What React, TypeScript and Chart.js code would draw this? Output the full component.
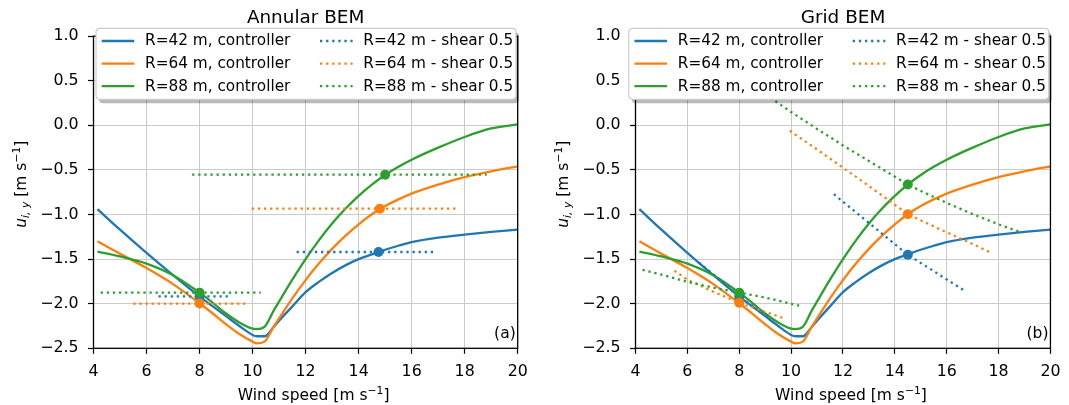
import React, { useEffect, useRef } from 'react';
import { Chart, registerables } from 'chart.js';

Chart.register(...registerables);

const FONT = '"DejaVu Sans", "Liberation Sans", sans-serif';
Chart.defaults.font.family = FONT;
Chart.defaults.font.size = 15.8;
Chart.defaults.color = '#000';

const BLUE = '#1f77b4';
const ORANGE = '#ff7f0e';
const GREEN = '#2ca02c';

// ---- data ----
const windSpeed = [4.15, 5, 6, 7, 8, 8.5, 9, 9.5, 10, 10.15, 10.45, 10.8, 11, 11.5, 12, 12.5, 13, 13.5, 14, 14.5, 15, 15.5, 16, 17, 18, 19, 20];
const r42Controller = [-0.94, -1.17, -1.43, -1.68, -1.92, -2.03, -2.14, -2.25, -2.35, -2.365, -2.365, -2.26, -2.19, -2.03, -1.87, -1.755, -1.655, -1.57, -1.50, -1.447, -1.395, -1.35, -1.31, -1.26, -1.225, -1.195, -1.17];
const r64Controller = [-1.30, -1.44, -1.60, -1.78, -1.995, -2.11, -2.23, -2.34, -2.425, -2.445, -2.425, -2.255, -2.165, -1.94, -1.735, -1.55, -1.385, -1.24, -1.11, -0.996, -0.905, -0.83, -0.765, -0.665, -0.58, -0.515, -0.46];
const r88Controller = [-1.415, -1.47, -1.55, -1.68, -1.876, -1.99, -2.11, -2.21, -2.28, -2.285, -2.26, -2.075, -1.975, -1.73, -1.50, -1.29, -1.10, -0.935, -0.79, -0.664, -0.556, -0.465, -0.385, -0.25, -0.13, -0.035, 0.01];

// Annular BEM, shear 0.5 (low and high operating point segments)
const annular42LowX = [6.45, 9.15];
const annular42LowY = [-1.917, -1.917];
const annular42HighX = [11.66, 16.81];
const annular42HighY = [-1.42, -1.42];
const annular64LowX = [5.5, 9.79];
const annular64LowY = [-1.998, -1.998];
const annular64HighX = [9.97, 17.78];
const annular64HighY = [-0.934, -0.934];
const annular88LowX = [4.27, 10.31];
const annular88LowY = [-1.876, -1.876];
const annular88HighX = [7.72, 18.83];
const annular88HighY = [-0.553, -0.553];

const annularOp42X = [8, 14.75];
const annularOp42Y = [-1.917, -1.42];
const annularOp64X = [8, 14.8];
const annularOp64Y = [-1.998, -0.934];
const annularOp88X = [8, 15.0];
const annularOp88Y = [-1.876, -0.553];

// Grid BEM, shear 0.5
const grid42LowX = [6.45, 7, 7.5, 8, 8.5, 9.15];
const grid42LowY = [-1.54, -1.67, -1.79, -1.92, -2.02, -2.15];
const grid42HighX = [11.65, 12.5, 13.5, 14.5, 15.5, 16.69];
const grid42HighY = [-0.772, -0.975, -1.213, -1.451, -1.635, -1.854];
const grid64LowX = [5.5, 6, 7, 8, 9, 9.79];
const grid64LowY = [-1.63, -1.73, -1.865, -1.99, -2.09, -2.17];
const grid64HighX = [9.95, 10.5, 11, 12, 13, 14, 14.5, 15, 16, 17, 17.76];
const grid64HighY = [-0.06, -0.17, -0.27, -0.475, -0.68, -0.89, -0.996, -1.065, -1.2, -1.33, -1.437];
const grid88LowX = [4.27, 5, 6, 7, 8, 9, 10.31];
const grid88LowY = [-1.62, -1.674, -1.755, -1.82, -1.876, -1.93, -2.022];
const grid88HighX = [7.72, 8.5, 9.45, 10, 11, 12, 13, 14, 14.5, 15, 16, 17, 18, 18.84];
const grid88HighY = [0.65, 0.47, 0.26, 0.15, -0.04, -0.225, -0.40, -0.575, -0.664, -0.735, -0.87, -0.995, -1.11, -1.197];

const gridOpX = [8, 14.5];
const gridOp42Y = [-1.92, -1.451];
const gridOp64Y = [-1.99, -0.996];
const gridOp88Y = [-1.876, -0.664];

const xTicksMin = 4;
const xTicksMax = 20;
const xTickStep = 2;
const yTicksMin = -2.5;
const yTicksMax = 1.0;
const yTickStep = 0.5;

const controllerLabels = ['R=42 m, controller', 'R=64 m, controller', 'R=88 m, controller'];
const shearLabels = ['R=42 m - shear 0.5', 'R=64 m - shear 0.5', 'R=88 m - shear 0.5'];

// ---- helpers ----
const LW = 2.3;
const DOT = [2.3, 3.8];

function pts(xs: number[], ys: number[]) {
  return xs.map((x, i) => ({ x, y: ys[i] as number | null }));
}
function twoSeg(lx: number[], ly: number[], hx: number[], hy: number[]) {
  const gapX = (lx[lx.length - 1] + hx[0]) / 2;
  return [...pts(lx, ly), { x: gapX, y: null }, ...pts(hx, hy)];
}
function fmtY(v: number) {
  return Number(v).toFixed(1).replace('-', '\u2212');
}

type Shear = { x: number[]; y: number[]; hx: number[]; hy: number[] };
type Op = { x: number[]; y: number[] };

function drawPieces(ctx: CanvasRenderingContext2D, pieces: { t: string; font: string; dy: number }[], cx: number, baseY: number) {
  let total = 0;
  for (const p of pieces) {
    ctx.font = p.font;
    total += ctx.measureText(p.t).width;
  }
  let x = cx - total / 2;
  ctx.textAlign = 'left';
  ctx.textBaseline = 'alphabetic';
  for (const p of pieces) {
    ctx.font = p.font;
    ctx.fillText(p.t, x, baseY + p.dy);
    x += ctx.measureText(p.t).width;
  }
}

function makeDecor(title: string, tag: string) {
  return {
    id: 'decor',
    afterDatasetsDraw(chart: any) {
      const { ctx, chartArea: a } = chart;
      ctx.save();
      ctx.strokeStyle = '#000';
      ctx.lineWidth = 1.3;
      ctx.strokeRect(a.left, a.top, a.right - a.left, a.bottom - a.top);
      ctx.fillStyle = '#000';
      ctx.font = `15.5px ${FONT}`;
      ctx.textAlign = 'right';
      ctx.textBaseline = 'alphabetic';
      ctx.fillText(tag, a.right - 2, a.bottom - 10.8);
      ctx.restore();
    },
    afterDraw(chart: any) {
      const { ctx, chartArea: a } = chart;
      ctx.save();
      ctx.fillStyle = '#000';
      const cx = (a.left + a.right) / 2;
      // title
      ctx.font = `18.4px ${FONT}`;
      ctx.textAlign = 'center';
      ctx.textBaseline = 'alphabetic';
      ctx.fillText(title, cx, a.top - 12.8);
      // x label
      const big = `15.5px ${FONT}`;
      const small = `10.8px ${FONT}`;
      drawPieces(ctx, [
        { t: 'Wind speed [m s', font: big, dy: 0 },
        { t: '−1', font: small, dy: -6 },
        { t: ']', font: big, dy: 0 },
      ], cx + 8, a.bottom + 51.2);
      // y label (rotated)
      ctx.save();
      ctx.translate(25.5, (a.top + a.bottom) / 2 - 8);
      ctx.rotate(-Math.PI / 2);
      drawPieces(ctx, [
        { t: 'u', font: `italic 15.5px ${FONT}`, dy: 0 },
        { t: 'i, y', font: `italic 10.8px ${FONT}`, dy: 3.2 },
        { t: ' [m s', font: big, dy: 0 },
        { t: '−1', font: small, dy: -6 },
        { t: ']', font: big, dy: 0 },
      ], 0, 0);
      ctx.restore();

      // legend
      const lw = 420;
      const lh = 71;
      const lx = a.right - 421.7;
      const ly = a.top - 7.9;
      const r = 4;
      const rr = (x: number, y: number, w: number, h: number) => {
        ctx.beginPath();
        ctx.moveTo(x + r, y);
        ctx.lineTo(x + w - r, y);
        ctx.quadraticCurveTo(x + w, y, x + w, y + r);
        ctx.lineTo(x + w, y + h - r);
        ctx.quadraticCurveTo(x + w, y + h, x + w - r, y + h);
        ctx.lineTo(x + r, y + h);
        ctx.quadraticCurveTo(x, y + h, x, y + h - r);
        ctx.lineTo(x, y + r);
        ctx.quadraticCurveTo(x, y, x + r, y);
        ctx.closePath();
      };
      rr(lx + 3, ly + 4, lw, lh);
      ctx.fillStyle = 'rgba(0,0,0,0.27)';
      ctx.fill();
      rr(lx, ly, lw, lh);
      ctx.fillStyle = '#ffffff';
      ctx.fill();
      ctx.strokeStyle = '#cccccc';
      ctx.lineWidth = 1.2;
      ctx.stroke();

      const items = chart.data.datasets.filter((d: any) => d.label);
      items.forEach((d: any, i: number) => {
        const col = Math.floor(i / 3);
        const row = i % 3;
        const yC = ly + 12.7 + row * 22.6;
        const hx0 = lx + (col === 0 ? 5.7 : 224);
        const tx = lx + (col === 0 ? 49 : 267.3);
        ctx.save();
        ctx.strokeStyle = d.borderColor;
        ctx.lineWidth = LW;
        ctx.setLineDash(d.borderDash || []);
        ctx.beginPath();
        ctx.moveTo(hx0, yC);
        ctx.lineTo(hx0 + 32.6, yC);
        ctx.stroke();
        ctx.restore();
        ctx.fillStyle = '#000';
        ctx.font = `15.3px ${FONT}`;
        ctx.textAlign = 'left';
        ctx.textBaseline = 'middle';
        ctx.fillText(d.label, tx, yC + 0.5);
      });
      ctx.restore();
    },
  };
}

function ChartPanel(props: {
  left: number;
  width: number;
  rightPad: number;
  title: string;
  tag: string;
  shear: Shear[];
  ops: Op[];
}) {
  const ref = useRef<HTMLCanvasElement | null>(null);
  useEffect(() => {
    if (!ref.current) return;
    const colors = [BLUE, ORANGE, GREEN];
    const controllers = [r42Controller, r64Controller, r88Controller];
    const datasets: any[] = [];
    controllers.forEach((vals, i) => {
      datasets.push({
        label: controllerLabels[i],
        data: pts(windSpeed, vals),
        borderColor: colors[i],
        backgroundColor: colors[i],
        borderWidth: LW,
        pointRadius: 0,
        cubicInterpolationMode: 'monotone',
        fill: false,
      });
    });
    props.shear.forEach((s, i) => {
      datasets.push({
        label: shearLabels[i],
        data: twoSeg(s.x, s.y, s.hx, s.hy),
        borderColor: colors[i],
        backgroundColor: colors[i],
        borderWidth: LW,
        borderDash: DOT,
        pointRadius: 0,
        tension: 0,
        spanGaps: false,
        fill: false,
      });
    });
    props.ops.forEach((o, i) => {
      datasets.push({
        data: pts(o.x, o.y),
        showLine: false,
        borderColor: colors[i],
        backgroundColor: colors[i],
        pointBackgroundColor: colors[i],
        pointBorderColor: colors[i],
        pointBorderWidth: 0,
        pointRadius: 5,
      });
    });
    datasets.forEach((d, i) => (d.order = -i));

    const tickFont = { family: FONT, size: 15.8 };
    const chart = new Chart(ref.current, {
      type: 'line',
      data: { datasets },
      options: {
        responsive: false,
        animation: false,
        devicePixelRatio: 1,
        events: [],
        font: tickFont,
        layout: { padding: { top: 36.2, right: props.rightPad, left: 0, bottom: 0 } },
        plugins: { legend: { display: false }, tooltip: { enabled: false }, title: { display: false } },
        scales: {
          x: {
            type: 'linear',
            min: xTicksMin,
            max: xTicksMax,
            ticks: {
              stepSize: xTickStep,
              autoSkip: false,
              maxRotation: 0,
              color: '#000',
              padding: 8.5,
              font: tickFont,
              callback: (v: any) => String(v),
            },
            grid: { color: '#cbcbcb', lineWidth: 1, tickColor: '#000', tickLength: 5.5, tickWidth: 1.2 },
            border: { display: false },
            afterFit: (s: any) => {
              s.height = 56.7;
            },
          },
          y: {
            type: 'linear',
            min: yTicksMin,
            max: yTicksMax,
            ticks: {
              stepSize: yTickStep,
              color: '#000',
              padding: 9.5,
              font: tickFont,
              callback: (v: any) => fmtY(v),
            },
            grid: { color: '#cbcbcb', lineWidth: 1, tickColor: '#000', tickLength: 5.5, tickWidth: 1.2 },
            border: { display: false },
            afterFit: (s: any) => {
              s.width = 93.5;
            },
          },
        },
      } as any,
      plugins: [makeDecor(props.title, props.tag) as any],
    });
    return () => chart.destroy();
  }, []);
  return (
    <canvas
      ref={ref}
      width={props.width}
      height={405}
      style={{ position: 'absolute', left: props.left, top: 0, width: props.width, height: 405 }}
    />
  );
}

export default function App() {
  const annularShear: Shear[] = [
    { x: annular42LowX, y: annular42LowY, hx: annular42HighX, hy: annular42HighY },
    { x: annular64LowX, y: annular64LowY, hx: annular64HighX, hy: annular64HighY },
    { x: annular88LowX, y: annular88LowY, hx: annular88HighX, hy: annular88HighY },
  ];
  const annularOps: Op[] = [
    { x: annularOp42X, y: annularOp42Y },
    { x: annularOp64X, y: annularOp64Y },
    { x: annularOp88X, y: annularOp88Y },
  ];
  const gridShear: Shear[] = [
    { x: grid42LowX, y: grid42LowY, hx: grid42HighX, hy: grid42HighY },
    { x: grid64LowX, y: grid64LowY, hx: grid64HighX, hy: grid64HighY },
    { x: grid88LowX, y: grid88LowY, hx: grid88HighX, hy: grid88HighY },
  ];
  const gridOps: Op[] = [
    { x: gridOpX, y: gridOp42Y },
    { x: gridOpX, y: gridOp64Y },
    { x: gridOpX, y: gridOp88Y },
  ];
  return (
    <div style={{ position: 'absolute', left: 0, top: 0, width: 1069, height: 405, background: '#fff', overflow: 'hidden' }}>
      <ChartPanel left={0} width={542} rightPad={24.3} title="Annular BEM" tag="(a)" shear={annularShear} ops={annularOps} />
      <ChartPanel left={542} width={527} rightPad={9.7} title="Grid BEM" tag="(b)" shear={gridShear} ops={gridOps} />
    </div>
  );
}
